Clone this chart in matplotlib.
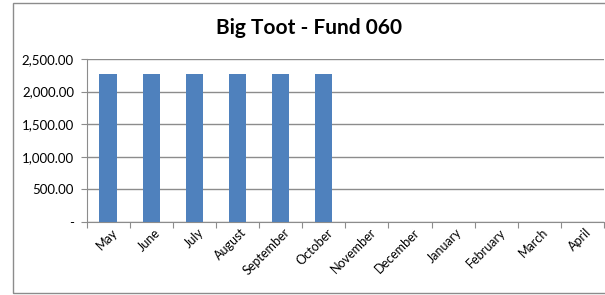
import matplotlib.pyplot as plt
from matplotlib.patches import Rectangle
from matplotlib.ticker import FuncFormatter, MultipleLocator
from matplotlib.transforms import ScaledTranslation

months = ["May", "June", "July", "August", "September", "October",
          "November", "December", "January", "February", "March", "April"]
values = [2266, 2266, 2266, 2266, 2266, 2266, 0, 0, 0, 0, 0, 0]

plt.rcParams['font.family'] = ['Lato', 'DejaVu Sans']

W, H = 605, 295
fig = plt.figure(figsize=(W / 100, H / 100), dpi=100)

# outer chart border (right edge runs off the picture)
fig.patches.append(Rectangle((13 / W, 1 - 293 / H), 600 / W, 290 / H,
                             transform=fig.transFigure, fill=False,
                             edgecolor='#8c8c8c', linewidth=1.0))

ax = fig.add_axes([86.5 / W, 1 - 222 / H, (604 - 86.5) / W, (222 - 59) / H])

x = list(range(len(months)))
ax.bar(x, values, width=0.4, color='#4f81bd', zorder=3)

ax.set_xlim(-0.5, len(months) - 0.5)
ax.set_ylim(0, 2500)
ax.yaxis.set_major_locator(MultipleLocator(500))
ax.yaxis.set_major_formatter(FuncFormatter(lambda v, p: "-" if v == 0 else f"{v:,.2f}"))
ax.grid(axis='y', color='#8c8c8c', linewidth=1.0, zorder=0)

for s in ['top', 'right']:
    ax.spines[s].set_visible(False)
ax.spines['left'].set_color('#8c8c8c')
ax.spines['bottom'].set_color('#8c8c8c')

# category ticks sit between bars, labels at the centres
ax.set_xticks([i - 0.5 for i in range(len(months) + 1)])
ax.set_xticklabels([])
ax.set_xticks(x, minor=True)
ax.set_xticklabels(months, minor=True, rotation=45, ha='right',
                   rotation_mode='anchor', fontsize=9)
ax.tick_params(axis='x', which='minor', length=0, pad=3)
ax.tick_params(axis='x', which='major', length=4, color='#8c8c8c', direction='out')
ax.tick_params(axis='y', length=4, color='#8c8c8c', labelsize=9.5, pad=5)

shift = ScaledTranslation(3 / 100, 0, fig.dpi_scale_trans)
for lab in ax.get_xticklabels(minor=True):
    lab.set_transform(lab.get_transform() + shift)

fig.text((13 + 604) / 2 / W, 1 - 28 / H, "Big Toot - Fund 060", ha='center', va='center',
         fontsize=15, fontweight='bold')

fig.savefig("out.png", dpi=100)
